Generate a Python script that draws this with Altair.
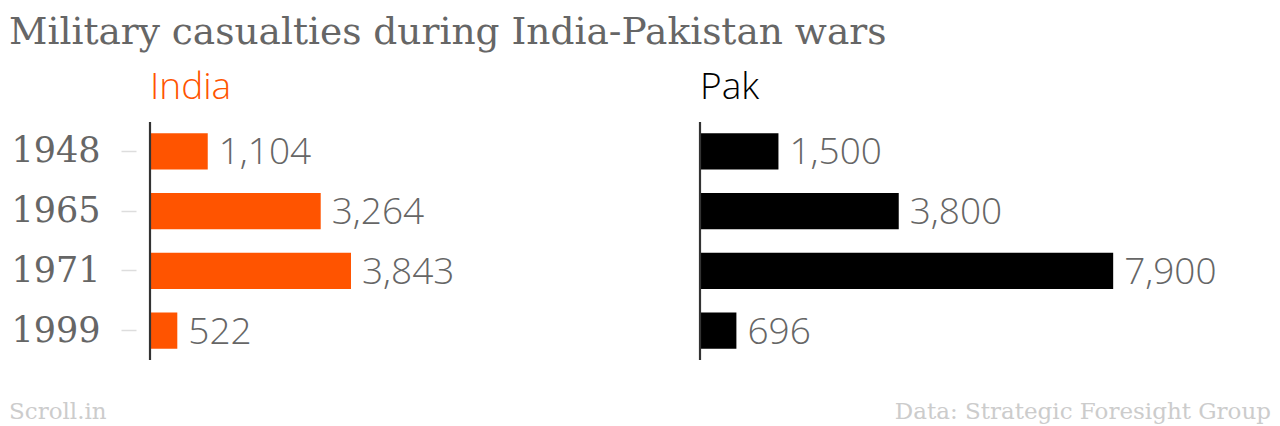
import altair as alt
import pandas as pd

years = ["1948", "1965", "1971", "1999"]
india = [1104, 3264, 3843, 522]
pak = [1500, 3800, 7900, 696]

W, H = 500, 238
XMAX = 9560
SANS = "Open Sans"
SERIF = "DejaVu Serif"


def panel(name, values, color, show_axis, footer, footer_x, footer_align):
    df = pd.DataFrame({"year": years, "value": values,
                       "label": [f"{v:,}" for v in values]})
    base = alt.Chart(df)
    yenc = alt.Y(
        "year:N", sort=years, title=None,
        scale=alt.Scale(paddingInner=0.396, paddingOuter=0.19),
        axis=alt.Axis(
            domain=False, ticks=True, labels=True, offset=14,
            tickSize=15, tickColor="#dddddd", tickWidth=1.5,
            labelPadding=21, labelFont=SERIF, labelFontSize=35,
            labelColor="#666666", grid=False,
        ) if show_axis else None,
    )
    xenc = alt.X("value:Q", scale=alt.Scale(domain=[0, XMAX]), axis=None)
    bars = base.mark_bar(color=color).encode(x=xenc, y=yenc)
    text = base.mark_text(
        align="left", baseline="middle", dx=11, dy=2, font=SANS,
        fontWeight=300, fontSize=37, color="#666666",
    ).encode(x=xenc, y=alt.Y("year:N", sort=years), text="label:N")
    rule = alt.Chart(alt.Data(values=[{}])).mark_rule(
        color="#333333", strokeWidth=2.2
    ).encode(x=alt.value(0), y=alt.value(0), y2=alt.value(H))
    foot = alt.Chart(alt.Data(values=[{"t": footer}])).mark_text(
        align=footer_align, baseline="alphabetic", font=SERIF,
        fontSize=23, color="#cccccc",
    ).encode(x=alt.value(footer_x), y=alt.value(H + 59), text="t:N")
    return alt.layer(bars, text, rule, foot).properties(
        width=W, height=H,
        title=alt.TitleParams(
            name, anchor="start", frame="group", font=SANS, fontWeight=300,
            fontSize=37, color=color, offset=14,
        ),
    )


left = panel("India", india, "#ff5400", True, "Scroll.in", -141, "left")
right = panel("Pak", pak, "#000000", False, "Data: Strategic Foresight Group", 571, "right")

chart = alt.hconcat(left, right, spacing=48).properties(
    title=alt.TitleParams(
        "Military casualties during India-Pakistan wars", anchor="start",
        font=SERIF, fontSize=37.5, fontWeight="normal", color="#666666",
        offset=17, dx=0,
    ),
    padding={"left": 1, "top": 6, "right": 0, "bottom": 0},
).configure_view(stroke=None)

chart.save("out.html", embed_options={"renderer": "svg", "actions": False})
